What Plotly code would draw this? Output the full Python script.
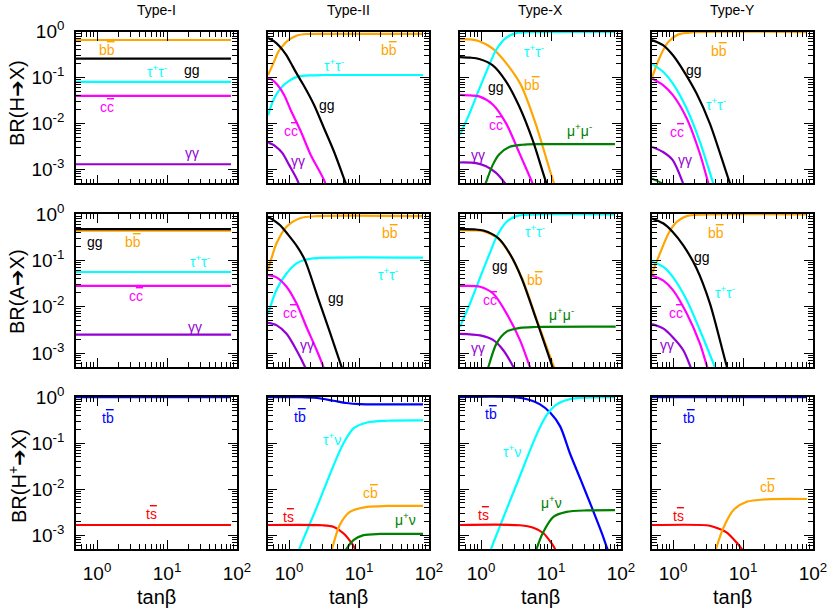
import math
import plotly.graph_objects as go

# ------------------------------------------------------------------ data
# ----- BR(H -> X) -----
h1_t = [0.5, 82]
h1_bb = [0.66, 0.66]
h1_gg = [0.26, 0.26]
h1_tt = [0.081, 0.081]
h1_cc = [0.040, 0.040]
h1_aa = [1.3e-3, 1.3e-3]

h2_bb_t = [0.5, 0.6, 0.7, 0.8, 1.0, 1.3, 1.8, 3, 82]
h2_bb = [0.114, 0.21, 0.36, 0.48, 0.67, 0.83, 0.89, 0.9, 0.9]
h2_gg_t = [0.5, 0.6, 0.74, 0.9, 1.0, 1.31, 1.6, 2.27, 3.16, 4.38, 6.2, 8]
h2_gg = [0.73, 0.63, 0.47, 0.32, 0.245, 0.116, 0.07, 0.0257, 7.9e-3, 2.46e-3, 5.9e-4, 2e-4]
h2_tt_t = [0.5, 0.6, 0.76, 1.0, 1.3, 2, 3, 82]
h2_tt = [0.0151, 0.033, 0.059, 0.085, 0.104, 0.112, 0.114, 0.114]
h2_cc_t = [0.5, 0.58, 0.68, 0.85, 1.05, 1.47, 2.03, 3.16, 4]
h2_cc = [0.10, 0.088, 0.07, 0.042, 0.020, 6.8e-3, 2.1e-3, 5.9e-4, 2e-4]
h2_aa_t = [0.5, 0.64, 0.8, 1.0, 1.31, 1.6]
h2_aa = [3.9e-3, 3.2e-3, 2.3e-3, 1.26e-3, 5.9e-4, 2.5e-4]

h3_tt_t = [0.5, 0.68, 0.94, 1.31, 1.64, 2.27, 3.16, 5.4, 82]
h3_tt = [5.7e-3, 0.0163, 0.056, 0.19, 0.40, 0.73, 0.93, 0.98, 0.99]
h3_bb_t = [0.5, 0.7, 0.94, 1.47, 2.27, 3.7, 6.1, 10.8, 14]
h3_bb = [0.69, 0.68, 0.62, 0.43, 0.21, 0.070, 9.4e-3, 5.5e-4, 2e-4]
h3_gg_t = [0.5, 0.7, 0.94, 1.47, 2.27, 3.52, 5.45, 8.3, 11]
h3_gg = [0.28, 0.272, 0.254, 0.185, 0.083, 0.0235, 4.4e-3, 5.9e-4, 1.8e-4]
h3_cc_t = [0.5, 0.7, 0.94, 1.47, 2.27, 3.52, 5.3, 7]
h3_cc = [0.042, 0.041, 0.039, 0.026, 0.0102, 2.3e-3, 5.5e-4, 2e-4]
h3_aa_t = [0.5, 0.85, 1.18, 1.64, 2.14, 2.6]
h3_aa = [1.42e-3, 1.38e-3, 1.17e-3, 8.4e-4, 5.3e-4, 3.5e-4]
h3_mm_t = [1.0, 1.18, 1.47, 1.82, 2.53, 3.9, 6, 82]
h3_mm = [2.5e-4, 5.3e-4, 1.26e-3, 2.15e-3, 3.1e-3, 3.45e-3, 3.55e-3, 3.55e-3]

h4_bb_t = [0.5, 0.65, 0.855, 1.19, 1.95, 82]
h4_bb = [0.10, 0.285, 0.60, 0.875, 0.975, 0.98]
h4_gg_t = [0.5, 0.72, 0.99, 1.39, 2.17, 3.36, 6.5, 8.5]
h4_gg = [0.66, 0.51, 0.31, 0.146, 0.045, 0.01, 5e-4, 1.7e-4]
h4_tt_t = [0.5, 0.72, 0.99, 1.57, 2.42, 3.76, 4.8]
h4_tt = [0.20, 0.134, 0.075, 0.021, 4.0e-3, 5e-4, 1.8e-4]
h4_cc_t = [0.5, 0.72, 0.99, 1.57, 2.42, 3.2, 4]
h4_cc = [0.096, 0.069, 0.042, 0.0129, 2.2e-3, 5e-4, 1.6e-4]
h4_aa_t = [0.5, 0.72, 0.99, 1.39, 1.7]
h4_aa = [3.1e-3, 2.4e-3, 1.6e-3, 5e-4, 2e-4]
h4_mm_t = [0.5, 0.72, 0.9]
h4_mm = [6.3e-4, 4.8e-4, 3e-4]

# ----- BR(A -> X) -----
a1_t = [0.5, 82]
a1_bb = [0.44, 0.44]
a1_gg = [0.47, 0.47]
a1_tt = [0.056, 0.056]
a1_cc = [0.028, 0.028]
a1_aa = [2.5e-3, 2.5e-3]

a2_bb_t = [0.5, 0.57, 0.66, 0.92, 1.43, 2.5, 82]
a2_bb = [0.062, 0.12, 0.23, 0.53, 0.81, 0.9, 0.9]
a2_gg_t = [0.5, 0.74, 0.98, 1.3, 1.69, 2.56, 3.85, 5.64, 7.5]
a2_gg = [0.875, 0.58, 0.35, 0.2, 0.10, 0.0163, 2.76e-3, 5e-4, 1.5e-4]
a2_tt_t = [0.5, 0.66, 0.92, 1.28, 1.69, 2.5, 82]
a2_tt = [6.9e-3, 0.023, 0.052, 0.086, 0.103, 0.112, 0.114]
a2_cc_t = [0.5, 0.66, 0.92, 1.28, 1.78, 2.5, 3.1, 4]
a2_cc = [0.048, 0.043, 0.027, 0.0117, 3.6e-3, 1.12e-3, 5e-4, 1.5e-4]
a2_aa_t = [0.5, 0.66, 0.92, 1.28, 1.69, 2.2]
a2_aa = [4.5e-3, 4.0e-3, 2.6e-3, 1.15e-3, 5e-4, 1.7e-4]

a3_tt_t = [0.5, 0.70, 0.97, 1.34, 1.66, 2.32, 3.2, 5, 82]
a3_tt = [3.7e-3, 0.012, 0.043, 0.146, 0.32, 0.68, 0.9, 0.97, 0.98]
a3_bb_t = [0.5, 0.8, 1.08, 1.77, 2.59, 3.85, 6.3, 11, 14]
a3_bb = [0.45, 0.445, 0.425, 0.29, 0.135, 0.041, 5.1e-3, 5e-4, 2e-4]
a3_gg_t = [0.5, 0.8, 1.08, 1.77, 2.59, 3.80, 6.2, 10.5, 13]
a3_gg = [0.47, 0.465, 0.44, 0.30, 0.137, 0.041, 5.1e-3, 5e-4, 2e-4]
a3_cc_t = [0.5, 0.97, 1.5, 2.32, 3.6, 5.0, 6.5]
a3_cc = [0.028, 0.027, 0.019, 7.1e-3, 1.9e-3, 5e-4, 1.8e-4]
a3_aa_t = [0.5, 0.97, 1.5, 2.08, 2.9, 3.6]
a3_aa = [2.6e-3, 2.4e-3, 1.9e-3, 1.15e-3, 5e-4, 2.5e-4]
a3_mm_t = [1.1, 1.27, 1.66, 2.32, 3.6, 6, 84]
a3_mm = [2.5e-4, 5e-4, 1.6e-3, 2.9e-3, 3.5e-3, 3.65e-3, 3.7e-3]

a4_bb_t = [0.5, 0.65, 0.86, 1.13, 1.56, 2.5, 82]
a4_bb = [0.052, 0.141, 0.38, 0.68, 0.9, 0.97, 0.98]
a4_gg_t = [0.5, 0.72, 0.99, 1.40, 2.17, 3.37, 5.9, 7.5]
a4_gg = [0.8, 0.63, 0.41, 0.21, 0.067, 0.0117, 5e-4, 1.6e-4]
a4_tt_t = [0.5, 0.72, 0.99, 1.57, 2.42, 3.95, 5]
a4_tt = [0.093, 0.073, 0.044, 0.0138, 3.1e-3, 5e-4, 2e-4]
a4_cc_t = [0.5, 0.72, 0.99, 1.57, 2.42, 3.08, 4]
a4_cc = [0.047, 0.037, 0.023, 7.1e-3, 1.6e-3, 5e-4, 1.5e-4]
a4_aa_t = [0.5, 0.72, 0.99, 1.40, 1.78, 2.3]
a4_aa = [4.2e-3, 3.4e-3, 2.2e-3, 1.15e-3, 5e-4, 1.7e-4]

# ----- BR(H+ -> X) -----
c1_t = [0.5, 82]
c1_tb = [0.998, 0.998]
c1_ts = [1.66e-3, 1.66e-3]

c2_tb_t = [0.5, 1.5, 2.5, 4.3, 6.6, 10.3, 20, 82]
c2_tb = [0.998, 0.99, 0.95, 0.83, 0.74, 0.70, 0.69, 0.69]
c2_tn_t = [1.2, 1.40, 2.5, 4.3, 5.97, 8.4, 13, 25, 82]
c2_tn = [2.5e-4, 5e-4, 4.1e-3, 0.032, 0.098, 0.21, 0.28, 0.305, 0.31]
c2_ts_t = [0.5, 3.0, 4.3, 5.97, 7.9, 8.8, 10]
c2_ts = [1.66e-3, 1.64e-3, 1.52e-3, 1.1e-3, 6.6e-4, 5e-4, 3e-4]
c2_cb_t = [3.6, 4.1, 5.3, 7.4, 13, 25, 82]
c2_cb = [2.5e-4, 5e-4, 1.66e-3, 3.2e-3, 4.1e-3, 4.3e-3, 4.3e-3]
c2_mn_t = [5.8, 6.6, 8.4, 11.6, 20, 82]
c2_mn = [3e-4, 5e-4, 7.9e-4, 1.0e-3, 1.06e-3, 1.06e-3]

c3_tb_t = [0.5, 3, 5.0, 6.97, 9.7, 13.5, 18.6, 26.6, 38, 54, 64, 75]
c3_tb = [0.998, 0.99, 0.86, 0.69, 0.46, 0.23, 0.060, 0.0158, 4.1e-3, 1.04e-3, 5e-4, 3e-4]
c3_tn_t = [1.2, 1.39, 2.08, 3.6, 6.3, 8.7, 12.1, 18.6, 30, 82]
c3_tn = [2.6e-4, 5e-4, 2.4e-3, 0.0195, 0.16, 0.41, 0.69, 0.9, 0.97, 0.99]
c3_ts_t = [0.5, 3.6, 5.6, 7.8, 10.2, 11.4, 13]
c3_ts = [1.66e-3, 1.64e-3, 1.45e-3, 1.1e-3, 6.6e-4, 5e-4, 3e-4]
c3_mn_t = [5.5, 6.2, 7.8, 10.8, 16.7, 32.6, 82]
c3_mn = [2.5e-4, 5e-4, 1.19e-3, 2.5e-3, 3.2e-3, 3.45e-3, 3.5e-3]

c4_t = [0.5, 82]
c4_tb = [0.998, 0.998]
c4_ts_t = [0.5, 3.0, 3.76, 5.8, 8.1, 9.6, 11]
c4_ts = [1.66e-3, 1.64e-3, 1.52e-3, 1.15e-3, 6.9e-4, 5e-4, 3.5e-4]
c4_cb_t = [3.6, 4.1, 5.2, 7.3, 11.3, 21.9, 82]
c4_cb = [2.5e-4, 5e-4, 1.4e-3, 3.5e-3, 5.3e-3, 6.0e-3, 6.1e-3]

col_titles = ["Type-I", "Type-II", "Type-X", "Type-Y"]
row_titles = ["BR(H➔X)", "BR(A➔X)", "BR(H<sup>+</sup>➔X)"]
x_tickvals = [1, 10, 100]
x_ticktext = ["10<sup>0</sup>", "10<sup>1</sup>", "10<sup>2</sup>"]
y_tickvals = [1, 0.1, 0.01, 0.001]
y_ticktext = ["10<sup>0</sup>", "10<sup>-1</sup>", "10<sup>-2</sup>", "10<sup>-3</sup>"]

# ------------------------------------------------------------------ style
COL = dict(bb="#FFA500", gg="#000000", tt="#00FFFF", cc="#FF00FF", aa="#9400D3",
           mm="#008000", tb="#0000FF", ts="#FF0000", cb="#FFA500", tn="#00FFFF", mn="#008000")
FONT = "Liberation Sans, Arial, DejaVu Sans, sans-serif"

def ov(s):
    return '<span style="text-decoration:overline">%s</span>' % s

LBL = dict(bb="b" + ov("b"), gg="gg", tt="τ<sup>+</sup>τ<sup>-</sup>", cc="c" + ov("c"),
           aa="γγ", mm="μ<sup>+</sup>μ<sup>-</sup>", tb="t" + ov("b"), ts="t" + ov("s"),
           cb="c" + ov("b"), tn="τ<sup>+</sup>ν", mn="μ<sup>+</sup>ν")

# (row, col, key, t, values)
curves = [
    (0, 0, "bb", h1_t, h1_bb), (0, 0, "gg", h1_t, h1_gg), (0, 0, "tt", h1_t, h1_tt),
    (0, 0, "cc", h1_t, h1_cc), (0, 0, "aa", h1_t, h1_aa),
    (0, 1, "bb", h2_bb_t, h2_bb), (0, 1, "tt", h2_tt_t, h2_tt), (0, 1, "cc", h2_cc_t, h2_cc),
    (0, 1, "aa", h2_aa_t, h2_aa), (0, 1, "gg", h2_gg_t, h2_gg),
    (0, 2, "bb", h3_bb_t, h3_bb), (0, 2, "tt", h3_tt_t, h3_tt), (0, 2, "cc", h3_cc_t, h3_cc),
    (0, 2, "aa", h3_aa_t, h3_aa), (0, 2, "mm", h3_mm_t, h3_mm), (0, 2, "gg", h3_gg_t, h3_gg),
    (0, 3, "bb", h4_bb_t, h4_bb), (0, 3, "tt", h4_tt_t, h4_tt), (0, 3, "cc", h4_cc_t, h4_cc),
    (0, 3, "aa", h4_aa_t, h4_aa), (0, 3, "mm", h4_mm_t, h4_mm), (0, 3, "gg", h4_gg_t, h4_gg),
    (1, 0, "bb", a1_t, a1_bb), (1, 0, "gg", a1_t, a1_gg), (1, 0, "tt", a1_t, a1_tt),
    (1, 0, "cc", a1_t, a1_cc), (1, 0, "aa", a1_t, a1_aa),
    (1, 1, "bb", a2_bb_t, a2_bb), (1, 1, "tt", a2_tt_t, a2_tt), (1, 1, "cc", a2_cc_t, a2_cc),
    (1, 1, "aa", a2_aa_t, a2_aa), (1, 1, "gg", a2_gg_t, a2_gg),
    (1, 2, "bb", a3_bb_t, a3_bb), (1, 2, "tt", a3_tt_t, a3_tt), (1, 2, "cc", a3_cc_t, a3_cc),
    (1, 2, "aa", a3_aa_t, a3_aa), (1, 2, "mm", a3_mm_t, a3_mm), (1, 2, "gg", a3_gg_t, a3_gg),
    (1, 3, "bb", a4_bb_t, a4_bb), (1, 3, "tt", a4_tt_t, a4_tt), (1, 3, "cc", a4_cc_t, a4_cc),
    (1, 3, "aa", a4_aa_t, a4_aa), (1, 3, "gg", a4_gg_t, a4_gg),
    (2, 0, "tb", c1_t, c1_tb), (2, 0, "ts", c1_t, c1_ts),
    (2, 1, "tb", c2_tb_t, c2_tb), (2, 1, "tn", c2_tn_t, c2_tn), (2, 1, "ts", c2_ts_t, c2_ts),
    (2, 1, "cb", c2_cb_t, c2_cb), (2, 1, "mn", c2_mn_t, c2_mn),
    (2, 2, "tb", c3_tb_t, c3_tb), (2, 2, "tn", c3_tn_t, c3_tn), (2, 2, "ts", c3_ts_t, c3_ts),
    (2, 2, "mn", c3_mn_t, c3_mn),
    (2, 3, "tb", c4_t, c4_tb), (2, 3, "ts", c4_ts_t, c4_ts), (2, 3, "cb", c4_cb_t, c4_cb),
]

# (row, col, key, log10 tanβ, log10 BR)
labels = [
    (0, 0, "bb", 0.14, -0.40), (0, 0, "gg", 1.36, -0.83), (0, 0, "tt", 0.86, -0.86),
    (0, 0, "cc", 0.14, -1.64), (0, 0, "aa", 1.36, -2.64),
    (0, 1, "bb", 1.43, -0.39), (0, 1, "tt", 0.64, -0.73), (0, 1, "gg", 0.54, -1.60),
    (0, 1, "cc", 0.03, -2.17), (0, 1, "aa", 0.13, -2.82),
    (0, 2, "tt", 0.76, -0.41), (0, 2, "bb", 0.73, -1.17), (0, 2, "gg", 0.22, -1.21),
    (0, 2, "cc", 0.21, -2.03), (0, 2, "aa", -0.04, -2.68), (0, 2, "mm", 1.41, -2.15),
    (0, 3, "bb", 0.66, -0.43), (0, 3, "gg", 0.30, -0.83), (0, 3, "tt", 0.61, -1.58),
    (0, 3, "cc", 0.05, -2.18), (0, 3, "aa", 0.17, -2.80),
    (1, 0, "gg", -0.03, -0.60), (1, 0, "bb", 0.52, -0.60), (1, 0, "tt", 1.47, -1.01),
    (1, 0, "cc", 0.56, -1.77), (1, 0, "aa", 1.40, -2.43),
    (1, 1, "bb", 1.44, -0.42), (1, 1, "tt", 1.42, -1.30), (1, 1, "gg", 0.67, -1.81),
    (1, 1, "cc", 0.01, -2.13), (1, 1, "aa", 0.25, -2.83),
    (1, 2, "tt", 0.77, -0.36), (1, 2, "gg", 0.27, -1.12), (1, 2, "bb", 0.77, -1.43),
    (1, 2, "cc", 0.13, -1.86), (1, 2, "aa", -0.04, -2.90), (1, 2, "mm", 1.15, -2.16),
    (1, 3, "bb", 0.62, -0.42), (1, 3, "gg", 0.42, -0.92), (1, 3, "tt", 0.74, -1.68),
    (1, 3, "cc", 0.04, -2.14), (1, 3, "aa", -0.09, -2.83),
    (2, 0, "tb", 0.16, -0.46), (2, 0, "ts", 0.78, -2.53),
    (2, 1, "tb", 0.16, -0.43), (2, 1, "tn", 0.61, -0.91), (2, 1, "cb", 1.16, -2.09),
    (2, 1, "mn", 1.66, -2.64), (2, 1, "ts", -0.01, -2.60),
    (2, 2, "tb", 0.14, -0.36), (2, 2, "tn", 0.44, -1.17), (2, 2, "mn", 1.01, -2.27),
    (2, 2, "ts", 0.04, -2.56),
    (2, 3, "tb", 0.23, -0.46), (2, 3, "cb", 1.35, -1.95), (2, 3, "ts", 0.08, -2.58),
]

# ------------------------------------------------------------------ layout geometry
W, H = 830, 610
PX0, PW, PSTEP = 76, 161, 192
ROW_TOP = [31.7, 214, 397]
ROW_BOT = [183.3, 367, 549]


def fx(px):
    return px / W


def fy(py):
    return 1 - py / H


def ax_id(r, c):
    n = r * 4 + c + 1
    return ("" if n == 1 else str(n))


fig = go.Figure()

x_minor = [m * 10 ** e for e in (-1, 0, 1) for m in range(2, 10) if 0.5 <= m * 10 ** e <= 100]
y_minor = [m * 10 ** e for e in (-4, -3, -2, -1) for m in range(2, 10) if 5e-4 <= m * 10 ** e <= 1]

layout = dict(width=W, height=H,
              margin=dict(l=0, r=0, t=0, b=0, pad=0, autoexpand=False),
              paper_bgcolor="white", plot_bgcolor="white", showlegend=False,
              font=dict(family=FONT, color="black"))
annotations = []

for r in range(3):
    for c in range(4):
        i = ax_id(r, c)
        x0 = fx(PX0 + PSTEP * c)
        x1 = fx(PX0 + PW + PSTEP * c)
        y0 = fy(ROW_BOT[r])
        y1 = fy(ROW_TOP[r])
        common = dict(showline=True, linecolor="black", linewidth=1.6, mirror="ticks",
                      ticks="inside", ticklen=9, tickwidth=1.3, tickcolor="black",
                      showgrid=False, zeroline=False, automargin=False,
                      tickfont=dict(family=FONT, size=19, color="black"))
        layout["xaxis" + i] = dict(common, type="log", domain=[x0, x1],
                                   range=[math.log10(0.5), 2], anchor="y" + i,
                                   tickmode="array", tickvals=x_tickvals, ticktext=x_ticktext,
                                   showticklabels=(r == 2), ticklabelstandoff=6,
                                   minor=dict(tickmode="array", tickvals=x_minor, ticks="inside",
                                              ticklen=5, tickwidth=1.1, tickcolor="black"))
        layout["yaxis" + i] = dict(common, type="log", domain=[y0, y1],
                                   range=[math.log10(5e-4), 0], anchor="x" + i,
                                   tickmode="array", tickvals=y_tickvals, ticktext=y_ticktext,
                                   showticklabels=(c == 0), ticklabelstandoff=6,
                                   minor=dict(tickmode="array", tickvals=y_minor, ticks="inside",
                                              ticklen=5, tickwidth=1.1, tickcolor="black"))

for (r, c, key, t, v) in curves:
    i = ax_id(r, c)
    fig.add_trace(go.Scatter(x=t, y=v, mode="lines", xaxis="x" + i, yaxis="y" + i,
                             line=dict(color=COL[key], width=2.2, shape="spline", smoothing=0.8),
                             hoverinfo="skip"))

for (r, c, key, lx, ly) in labels:
    i = ax_id(r, c)
    annotations.append(dict(x=lx, y=ly, xref="x" + i, yref="y" + i, text=LBL[key],
                            xanchor="center", yanchor="middle",
                            showarrow=False, font=dict(family=FONT, size=14, color=COL[key])))

for c, ttl in enumerate(col_titles):
    xc = fx(PX0 + PW / 2 + PSTEP * c)
    annotations.append(dict(x=xc, y=fy(10), xref="paper", yref="paper", text=ttl,
                            xanchor="center", yanchor="middle",
                            showarrow=False, font=dict(family=FONT, size=14)))
    annotations.append(dict(x=xc, y=fy(597), xref="paper", yref="paper", text="tanβ",
                            xanchor="center", yanchor="middle",
                            showarrow=False, font=dict(family=FONT, size=20)))

row_centers = [103, 292, 476]
for r, ttl in enumerate(row_titles):
    annotations.append(dict(x=fx(17), y=fy(row_centers[r]), xref="paper", yref="paper",
                            text=ttl, textangle=-90, xanchor="center", yanchor="middle",
                            showarrow=False, font=dict(family=FONT, size=20)))

layout["annotations"] = annotations
fig.update_layout(**layout)
# let the 830x610 figure fill the window exactly (no default page margin), no mode bar
fig.write_html("out.html", config={"displayModeBar": False},
               post_script="document.body.style.margin='0px';")
